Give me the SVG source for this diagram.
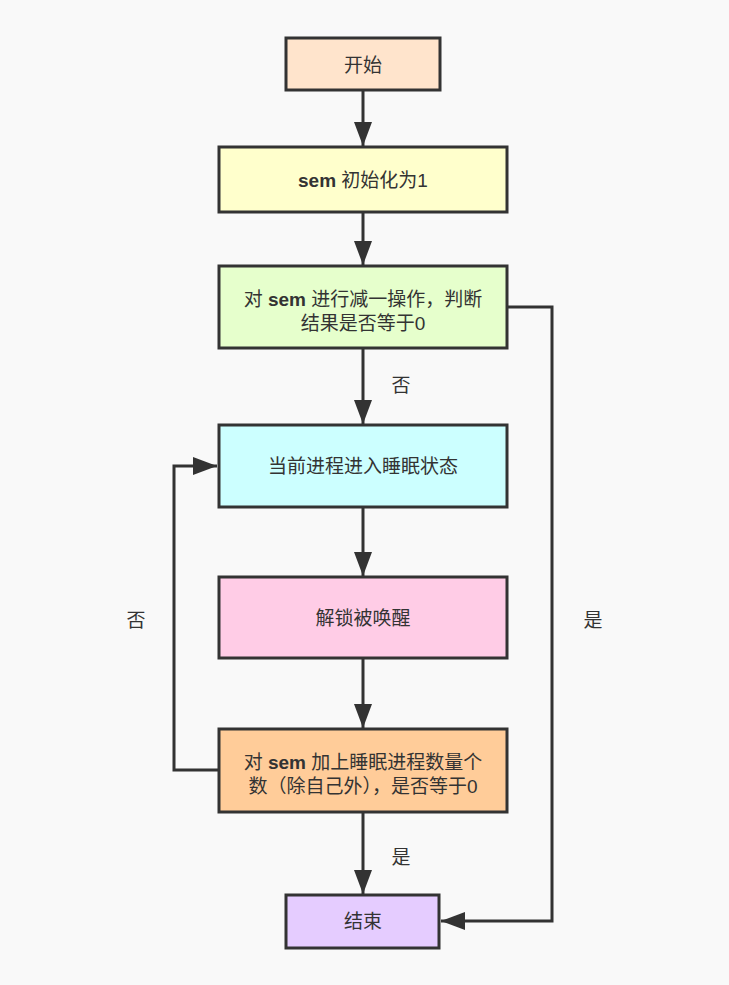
<svg xmlns="http://www.w3.org/2000/svg" width="729" height="985" viewBox="0 0 729 985">
  <style>
    .box { stroke: #333333; stroke-width: 3; }
    .lbl { font-family: "Liberation Sans", "Noto Sans CJK SC", sans-serif; font-size: 19px; fill: #333333; text-anchor: middle; font-kerning: none; }
    .b { font-weight: bold; }
    .edge { fill: none; stroke: #333333; stroke-width: 3; }
  </style>
  <defs>
    <marker id="arrow" viewBox="0 0 24 18" refX="24" refY="9" markerWidth="24" markerHeight="18" markerUnits="userSpaceOnUse" orient="auto">
      <path d="M0,0 L24,9 L0,18 Z" fill="#333333"/>
    </marker>
  </defs>
  <rect width="729" height="985" fill="#f9f9f9"/>

  <g id="connectors">
    <path class="edge" d="M363,90 V146" marker-end="url(#arrow)"/>
    <path class="edge" d="M363,213 V265" marker-end="url(#arrow)"/>
    <path class="edge" d="M363,348 V424" marker-end="url(#arrow)"/>
    <path class="edge" d="M363,507 V576" marker-end="url(#arrow)"/>
    <path class="edge" d="M363,658 V728" marker-end="url(#arrow)"/>
    <path class="edge" d="M363,812 V894" marker-end="url(#arrow)"/>
    <path class="edge" d="M507,307 H552 V921 H441" marker-end="url(#arrow)"/>
    <path class="edge" d="M218,770 H174 V466 H217" marker-end="url(#arrow)"/>
    <text class="lbl" x="401" y="392">否</text>
    <text class="lbl" x="401" y="864">是</text>
    <text class="lbl" x="593" y="627">是</text>
    <text class="lbl" x="136" y="627">否</text>
  </g>

  <g id="start">
    <rect class="box" x="286" y="38" width="154" height="52" fill="#ffe4cc"/>
    <text class="lbl" x="363" y="72">开始</text>
  </g>
  <g id="init">
    <rect class="box" x="219" y="147" width="288" height="65" fill="#ffffcc"/>
    <text class="lbl" x="363" y="187"><tspan class="b">sem</tspan> 初始化为1</text>
  </g>
  <g id="decrement">
    <rect class="box" x="219" y="266" width="288" height="82" fill="#e6ffcc"/>
    <text class="lbl" x="363" y="306">对 <tspan class="b">sem</tspan> 进行减一操作，判断</text>
    <text class="lbl" x="363" y="330">结果是否等于0</text>
  </g>
  <g id="sleep">
    <rect class="box" x="219" y="425" width="288" height="82" fill="#ccffff"/>
    <text class="lbl" x="363" y="473">当前进程进入睡眠状态</text>
  </g>
  <g id="wake">
    <rect class="box" x="219" y="577" width="288" height="81" fill="#ffcce6"/>
    <text class="lbl" x="363" y="625">解锁被唤醒</text>
  </g>
  <g id="check">
    <rect class="box" x="219" y="729" width="288" height="83" fill="#ffcc99"/>
    <text class="lbl" x="363" y="769">对 <tspan class="b">sem</tspan> 加上睡眠进程数量个</text>
    <text class="lbl" x="363" y="793">数（除自己外），是否等于0</text>
  </g>
  <g id="end">
    <rect class="box" x="286" y="895" width="153" height="53" fill="#e5ccff"/>
    <text class="lbl" x="363" y="928">结束</text>
  </g>
</svg>
